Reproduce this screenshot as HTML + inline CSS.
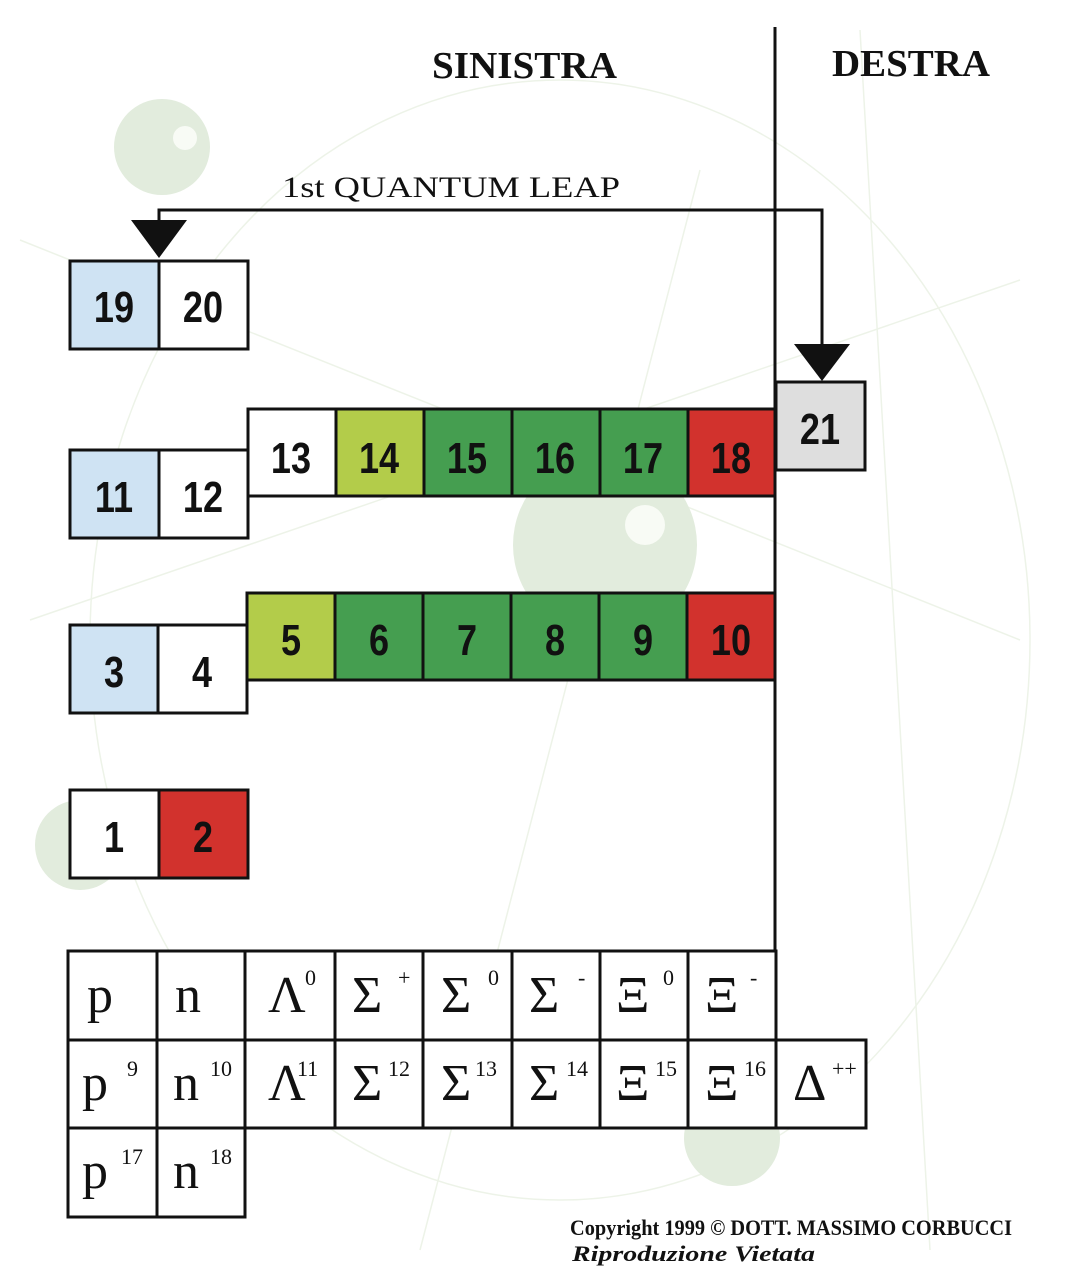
<!DOCTYPE html>
<html><head><meta charset="utf-8"><style>
html,body{margin:0;padding:0;background:#fff}
svg{display:block}
.n{font-family:"Liberation Sans",sans-serif;font-weight:bold;font-size:44px;fill:#111}
.n text{transform:scaleX(0.82);transform-box:fill-box;transform-origin:center}
.s{font-family:"Liberation Serif",serif;fill:#111}
</style></head><body>
<svg width="1090" height="1282" viewBox="0 0 1090 1282" xmlns="http://www.w3.org/2000/svg">
<g fill="none" stroke="#edf3e8" stroke-width="1.5">
<ellipse cx="560" cy="640" rx="470" ry="560" />
<line x1="20" y1="240" x2="1020" y2="640"/>
<line x1="30" y1="620" x2="1020" y2="280"/>
<line x1="700" y1="170" x2="420" y2="1250"/>
<line x1="860" y1="30" x2="930" y2="1250"/>
</g>
<g fill="#e2ecdd"><circle cx="162" cy="147" r="48"/><circle cx="605" cy="545" r="92"/><circle cx="80" cy="845" r="45"/><circle cx="732" cy="1138" r="48"/></g>
<g fill="#f8fbf5"><circle cx="185" cy="138" r="12"/><circle cx="645" cy="525" r="20"/><circle cx="752" cy="1108" r="12"/></g>

<text class="s" x="432" y="78" font-size="38" font-weight="bold" textLength="185" lengthAdjust="spacingAndGlyphs">SINISTRA</text>
<text class="s" x="832" y="76" font-size="38" font-weight="bold" textLength="158" lengthAdjust="spacingAndGlyphs">DESTRA</text>
<text class="s" x="282" y="197" font-size="30" textLength="338" lengthAdjust="spacingAndGlyphs">1st QUANTUM LEAP</text>

<g stroke="#111" stroke-width="3" fill="none">
<line x1="775" y1="27" x2="775" y2="952"/>
<polyline points="159,222 159,210 822,210 822,346"/>
</g>
<polygon points="131,220 187,220 159,258" fill="#111"/>
<polygon points="794,344 850,344 822,381" fill="#111"/>

<g stroke="#111" stroke-width="3">
<rect x="70" y="261" width="89" height="88" fill="#cfe3f3"/>
<rect x="159" y="261" width="89" height="88" fill="#fff"/>
<rect x="70" y="450" width="89" height="88" fill="#cfe3f3"/>
<rect x="159" y="450" width="89" height="88" fill="#fff"/>
<rect x="248" y="409" width="88" height="87" fill="#fff"/>
<rect x="336" y="409" width="88" height="87" fill="#b3cc4a"/>
<rect x="424" y="409" width="88" height="87" fill="#459e50"/>
<rect x="512" y="409" width="88" height="87" fill="#459e50"/>
<rect x="600" y="409" width="88" height="87" fill="#459e50"/>
<rect x="688" y="409" width="87" height="87" fill="#d2322d"/>
<rect x="776" y="382" width="89" height="88" fill="#dedede"/>
<rect x="70" y="625" width="88" height="88" fill="#cfe3f3"/>
<rect x="158" y="625" width="89" height="88" fill="#fff"/>
<rect x="247" y="593" width="88" height="87" fill="#b3cc4a"/>
<rect x="335" y="593" width="88" height="87" fill="#459e50"/>
<rect x="423" y="593" width="88" height="87" fill="#459e50"/>
<rect x="511" y="593" width="88" height="87" fill="#459e50"/>
<rect x="599" y="593" width="88" height="87" fill="#459e50"/>
<rect x="687" y="593" width="88" height="87" fill="#d2322d"/>
<rect x="70" y="790" width="89" height="88" fill="#fff"/>
<rect x="159" y="790" width="89" height="88" fill="#d2322d"/>
</g>
<g class="n" text-anchor="middle">
<text x="114" y="322">19</text><text x="203" y="322">20</text>
<text x="114" y="512">11</text><text x="203" y="512">12</text>
<text x="291" y="473">13</text><text x="379" y="473">14</text><text x="467" y="473">15</text><text x="555" y="473">16</text><text x="643" y="473">17</text><text x="731" y="473">18</text>
<text x="820" y="444">21</text>
<text x="114" y="687">3</text><text x="202" y="687">4</text>
<text x="291" y="655">5</text><text x="379" y="655">6</text><text x="467" y="655">7</text><text x="555" y="655">8</text><text x="643" y="655">9</text><text x="731" y="655">10</text>
<text x="114" y="852">1</text><text x="203" y="852">2</text>
</g>

<g stroke="#111" stroke-width="3" fill="#fff">
<rect x="68" y="951" width="89" height="89"/><rect x="157" y="951" width="88" height="89"/><rect x="245" y="951" width="90" height="89"/><rect x="335" y="951" width="88" height="89"/><rect x="423" y="951" width="89" height="89"/><rect x="512" y="951" width="88" height="89"/><rect x="600" y="951" width="88" height="89"/><rect x="688" y="951" width="88" height="89"/>
<rect x="68" y="1040" width="89" height="88"/><rect x="157" y="1040" width="88" height="88"/><rect x="245" y="1040" width="90" height="88"/><rect x="335" y="1040" width="88" height="88"/><rect x="423" y="1040" width="89" height="88"/><rect x="512" y="1040" width="88" height="88"/><rect x="600" y="1040" width="88" height="88"/><rect x="688" y="1040" width="88" height="88"/><rect x="776" y="1040" width="90" height="88"/>
<rect x="68" y="1128" width="89" height="89"/><rect x="157" y="1128" width="88" height="89"/>
</g>
<g class="s" font-size="52">
<text x="87" y="1012">p</text><text x="175" y="1012">n</text><text x="268" y="1012">Λ</text><text x="352" y="1012">Σ</text><text x="441" y="1012">Σ</text><text x="529" y="1012">Σ</text><text x="616" y="1012">Ξ</text><text x="705" y="1012">Ξ</text>
<text x="82" y="1100">p</text><text x="173" y="1100">n</text><text x="268" y="1100">Λ</text><text x="352" y="1100">Σ</text><text x="441" y="1100">Σ</text><text x="529" y="1100">Σ</text><text x="616" y="1100">Ξ</text><text x="705" y="1100">Ξ</text><text x="793" y="1100">Δ</text>
<text x="82" y="1188">p</text><text x="173" y="1188">n</text>
</g>
<g class="s" font-size="22">
<text x="305" y="985">0</text><text x="398" y="985">+</text><text x="488" y="985">0</text><text x="578" y="985">-</text><text x="663" y="985">0</text><text x="750" y="985">-</text>
<text x="127" y="1076">9</text><text x="210" y="1076">10</text><text x="297" y="1076">11</text><text x="388" y="1076">12</text><text x="475" y="1076">13</text><text x="566" y="1076">14</text><text x="655" y="1076">15</text><text x="744" y="1076">16</text><text x="832" y="1076">++</text>
<text x="121" y="1164">17</text><text x="210" y="1164">18</text>
</g>
<text class="s" x="570" y="1235" font-size="22" font-weight="bold" textLength="442" lengthAdjust="spacingAndGlyphs">Copyright 1999 © DOTT. MASSIMO CORBUCCI</text>
<text class="s" x="572" y="1261" font-size="22" font-weight="bold" font-style="italic" textLength="243" lengthAdjust="spacingAndGlyphs">Riproduzione Vietata</text>
</svg>
</body></html>
